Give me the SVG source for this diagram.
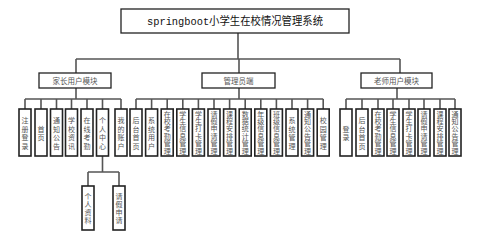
<svg xmlns="http://www.w3.org/2000/svg" width="482" height="249" viewBox="0 0 482 249">
<style>
.bx{fill:#fff;stroke:#222;stroke-width:1.6}
.mb{fill:#fff;stroke:#222;stroke-width:1.3}
.ln{stroke:#555;stroke-width:1.6;fill:none}
.t{font-family:"Noto Sans CJK SC","Liberation Sans",sans-serif;font-size:7px;fill:#555;text-anchor:middle}
.m{font-family:"Noto Sans CJK SC","Liberation Sans",sans-serif;font-size:7.5px;fill:#555;text-anchor:middle}
.ti{font-family:"Liberation Mono","Noto Sans CJK SC",monospace;font-size:11px;fill:#111;text-anchor:middle}
</style>
<rect width="482" height="249" fill="#fff"/>
<g id="connectors" class="ln">
<path d="M238 33V59M76 59H400M76 59V73M239 59V73M400 59V73"/>
<path d="M76 88V99M25 99H121M25 99V109M41 99V109M56.5 99V109M71.5 99V109M87 99V109M102.5 99V109M121 99V109"/>
<path d="M239 88V99M136 99H323.2M136 99V109M151.6 99V109M167.2 99V109M182.8 99V109M198.4 99V109M214 99V109M229.6 99V109M245.2 99V109M260.8 99V109M276.4 99V109M292 99V109M307.6 99V109M323.2 99V109"/>
<path d="M397 88V99M346 99H455M346 99V109M362 99V109M378 99V109M393 99V109M409 99V109M424 99V109M440 99V109M455 99V109"/>
<path d="M102.5 156V172M88 172H119M88 172V186M119 172V186"/>
</g>
<g id="title"><rect class="mb" x="121" y="9" width="228" height="24"/><text class="ti" x="235" y="25" textLength="176" lengthAdjust="spacingAndGlyphs">springboot小学生在校情况管理系统</text></g>
<g id="parent"><rect class="mb" x="39" y="73" width="72" height="15"/><text class="m" x="75" y="83.5">家长用户模块</text></g>
<g id="admin"><rect class="mb" x="202" y="73" width="73" height="15"/><text class="m" x="238.5" y="83.5">管理员端</text></g>
<g id="teacher"><rect class="mb" x="361" y="73" width="71" height="15"/><text class="m" x="396.5" y="83.5">老师用户模块</text></g>

<g id="p1"><rect class="bx" x="19" y="109" width="12" height="47"/><text class="t" x="25" y="123"><tspan x="25">注</tspan><tspan x="25" dy="8.5">册</tspan><tspan x="25" dy="8.5">登</tspan><tspan x="25" dy="8.5">录</tspan></text></g>
<g id="p2"><rect class="bx" x="35" y="109" width="12" height="47"/><text class="t" x="41" y="131.5"><tspan x="41">首</tspan><tspan x="41" dy="8.5">页</tspan></text></g>
<g id="p3"><rect class="bx" x="50.5" y="109" width="12" height="47"/><text class="t" x="56.5" y="123"><tspan x="56.5">通</tspan><tspan x="56.5" dy="8.5">知</tspan><tspan x="56.5" dy="8.5">公</tspan><tspan x="56.5" dy="8.5">告</tspan></text></g>
<g id="p4"><rect class="bx" x="65.5" y="109" width="12" height="47"/><text class="t" x="71.5" y="123"><tspan x="71.5">学</tspan><tspan x="71.5" dy="8.5">校</tspan><tspan x="71.5" dy="8.5">资</tspan><tspan x="71.5" dy="8.5">讯</tspan></text></g>
<g id="p5"><rect class="bx" x="81" y="109" width="12" height="47"/><text class="t" x="87" y="123"><tspan x="87">在</tspan><tspan x="87" dy="8.5">线</tspan><tspan x="87" dy="8.5">考</tspan><tspan x="87" dy="8.5">勤</tspan></text></g>
<g id="p6"><rect class="bx" x="96.5" y="109" width="12" height="47"/><text class="t" x="102.5" y="123"><tspan x="102.5">个</tspan><tspan x="102.5" dy="8.5">人</tspan><tspan x="102.5" dy="8.5">中</tspan><tspan x="102.5" dy="8.5">心</tspan></text></g>
<g id="p7"><rect class="bx" x="115" y="109" width="12" height="47"/><text class="t" x="121" y="123"><tspan x="121">我</tspan><tspan x="121" dy="8.5">的</tspan><tspan x="121" dy="8.5">账</tspan><tspan x="121" dy="8.5">户</tspan></text></g>

<g id="p6a"><rect class="bx" x="82" y="186" width="12" height="44"/><text class="t" x="88" y="198.5"><tspan x="88">个</tspan><tspan x="88" dy="8.3">人</tspan><tspan x="88" dy="8.3">资</tspan><tspan x="88" dy="8.3">料</tspan></text></g>
<g id="p6b"><rect class="bx" x="113" y="186" width="12" height="44"/><text class="t" x="119" y="198.5"><tspan x="119">请</tspan><tspan x="119" dy="8.3">假</tspan><tspan x="119" dy="8.3">申</tspan><tspan x="119" dy="8.3">请</tspan></text></g>

<g id="a1"><rect class="bx" x="130" y="109" width="12" height="47"/><text class="t" x="136" y="123"><tspan x="136">后</tspan><tspan x="136" dy="8.5">台</tspan><tspan x="136" dy="8.5">首</tspan><tspan x="136" dy="8.5">页</tspan></text></g>
<g id="a2"><rect class="bx" x="145.6" y="109" width="12" height="47"/><text class="t" x="151.6" y="123"><tspan x="151.6">系</tspan><tspan x="151.6" dy="8.5">统</tspan><tspan x="151.6" dy="8.5">用</tspan><tspan x="151.6" dy="8.5">户</tspan></text></g>
<g id="a3"><rect class="bx" x="161.2" y="109" width="12" height="47"/><text class="t" x="167.2" y="116.5"><tspan x="167.2">在</tspan><tspan x="167.2" dy="7.4">校</tspan><tspan x="167.2" dy="7.4">考</tspan><tspan x="167.2" dy="7.4">勤</tspan><tspan x="167.2" dy="7.4">管</tspan><tspan x="167.2" dy="7.4">理</tspan></text></g>
<g id="a4"><rect class="bx" x="176.8" y="109" width="12" height="47"/><text class="t" x="182.8" y="116.5"><tspan x="182.8">学</tspan><tspan x="182.8" dy="7.4">生</tspan><tspan x="182.8" dy="7.4">信</tspan><tspan x="182.8" dy="7.4">息</tspan><tspan x="182.8" dy="7.4">管</tspan><tspan x="182.8" dy="7.4">理</tspan></text></g>
<g id="a5"><rect class="bx" x="192.4" y="109" width="12" height="47"/><text class="t" x="198.4" y="116.5"><tspan x="198.4">学</tspan><tspan x="198.4" dy="7.4">生</tspan><tspan x="198.4" dy="7.4">打</tspan><tspan x="198.4" dy="7.4">卡</tspan><tspan x="198.4" dy="7.4">管</tspan><tspan x="198.4" dy="7.4">理</tspan></text></g>
<g id="a6"><rect class="bx" x="208" y="109" width="12" height="47"/><text class="t" x="214" y="116.5"><tspan x="214">请</tspan><tspan x="214" dy="7.4">假</tspan><tspan x="214" dy="7.4">申</tspan><tspan x="214" dy="7.4">请</tspan><tspan x="214" dy="7.4">管</tspan><tspan x="214" dy="7.4">理</tspan></text></g>
<g id="a7"><rect class="bx" x="223.6" y="109" width="12" height="47"/><text class="t" x="229.6" y="116.5"><tspan x="229.6">课</tspan><tspan x="229.6" dy="7.4">程</tspan><tspan x="229.6" dy="7.4">安</tspan><tspan x="229.6" dy="7.4">排</tspan><tspan x="229.6" dy="7.4">管</tspan><tspan x="229.6" dy="7.4">理</tspan></text></g>
<g id="a8"><rect class="bx" x="239.2" y="109" width="12" height="47"/><text class="t" x="245.2" y="116.5"><tspan x="245.2">数</tspan><tspan x="245.2" dy="7.4">据</tspan><tspan x="245.2" dy="7.4">统</tspan><tspan x="245.2" dy="7.4">计</tspan><tspan x="245.2" dy="7.4">管</tspan><tspan x="245.2" dy="7.4">理</tspan></text></g>
<g id="a9"><rect class="bx" x="254.8" y="109" width="12" height="47"/><text class="t" x="260.8" y="116.5"><tspan x="260.8">年</tspan><tspan x="260.8" dy="7.4">级</tspan><tspan x="260.8" dy="7.4">信</tspan><tspan x="260.8" dy="7.4">息</tspan><tspan x="260.8" dy="7.4">管</tspan><tspan x="260.8" dy="7.4">理</tspan></text></g>
<g id="a10"><rect class="bx" x="270.4" y="109" width="12" height="47"/><text class="t" x="276.4" y="116.5"><tspan x="276.4">班</tspan><tspan x="276.4" dy="7.4">级</tspan><tspan x="276.4" dy="7.4">信</tspan><tspan x="276.4" dy="7.4">息</tspan><tspan x="276.4" dy="7.4">管</tspan><tspan x="276.4" dy="7.4">理</tspan></text></g>
<g id="a11"><rect class="bx" x="286" y="109" width="12" height="47"/><text class="t" x="292" y="123"><tspan x="292">系</tspan><tspan x="292" dy="8.5">统</tspan><tspan x="292" dy="8.5">管</tspan><tspan x="292" dy="8.5">理</tspan></text></g>
<g id="a12"><rect class="bx" x="301.6" y="109" width="12" height="47"/><text class="t" x="307.6" y="116.5"><tspan x="307.6">通</tspan><tspan x="307.6" dy="7.4">知</tspan><tspan x="307.6" dy="7.4">公</tspan><tspan x="307.6" dy="7.4">告</tspan><tspan x="307.6" dy="7.4">管</tspan><tspan x="307.6" dy="7.4">理</tspan></text></g>
<g id="a13"><rect class="bx" x="317.2" y="109" width="12" height="47"/><text class="t" x="323.2" y="123"><tspan x="323.2">校</tspan><tspan x="323.2" dy="8.5">园</tspan><tspan x="323.2" dy="8.5">管</tspan><tspan x="323.2" dy="8.5">理</tspan></text></g>

<g id="t1"><rect class="bx" x="340" y="109" width="12" height="47"/><text class="t" x="346" y="131.5"><tspan x="346">登</tspan><tspan x="346" dy="8.5">录</tspan></text></g>
<g id="t2"><rect class="bx" x="356" y="109" width="12" height="47"/><text class="t" x="362" y="123"><tspan x="362">后</tspan><tspan x="362" dy="8.5">台</tspan><tspan x="362" dy="8.5">首</tspan><tspan x="362" dy="8.5">页</tspan></text></g>
<g id="t3"><rect class="bx" x="372" y="109" width="12" height="47"/><text class="t" x="378" y="116.5"><tspan x="378">在</tspan><tspan x="378" dy="7.4">校</tspan><tspan x="378" dy="7.4">考</tspan><tspan x="378" dy="7.4">勤</tspan><tspan x="378" dy="7.4">管</tspan><tspan x="378" dy="7.4">理</tspan></text></g>
<g id="t4"><rect class="bx" x="387" y="109" width="12" height="47"/><text class="t" x="393" y="116.5"><tspan x="393">学</tspan><tspan x="393" dy="7.4">生</tspan><tspan x="393" dy="7.4">信</tspan><tspan x="393" dy="7.4">息</tspan><tspan x="393" dy="7.4">管</tspan><tspan x="393" dy="7.4">理</tspan></text></g>
<g id="t5"><rect class="bx" x="403" y="109" width="12" height="47"/><text class="t" x="409" y="116.5"><tspan x="409">学</tspan><tspan x="409" dy="7.4">生</tspan><tspan x="409" dy="7.4">打</tspan><tspan x="409" dy="7.4">卡</tspan><tspan x="409" dy="7.4">管</tspan><tspan x="409" dy="7.4">理</tspan></text></g>
<g id="t6"><rect class="bx" x="418" y="109" width="12" height="47"/><text class="t" x="424" y="116.5"><tspan x="424">请</tspan><tspan x="424" dy="7.4">假</tspan><tspan x="424" dy="7.4">申</tspan><tspan x="424" dy="7.4">请</tspan><tspan x="424" dy="7.4">管</tspan><tspan x="424" dy="7.4">理</tspan></text></g>
<g id="t7"><rect class="bx" x="434" y="109" width="12" height="47"/><text class="t" x="440" y="116.5"><tspan x="440">课</tspan><tspan x="440" dy="7.4">程</tspan><tspan x="440" dy="7.4">安</tspan><tspan x="440" dy="7.4">排</tspan><tspan x="440" dy="7.4">管</tspan><tspan x="440" dy="7.4">理</tspan></text></g>
<g id="t8"><rect class="bx" x="449" y="109" width="12" height="47"/><text class="t" x="455" y="116.5"><tspan x="455">通</tspan><tspan x="455" dy="7.4">知</tspan><tspan x="455" dy="7.4">公</tspan><tspan x="455" dy="7.4">告</tspan><tspan x="455" dy="7.4">管</tspan><tspan x="455" dy="7.4">理</tspan></text></g>
</svg>
